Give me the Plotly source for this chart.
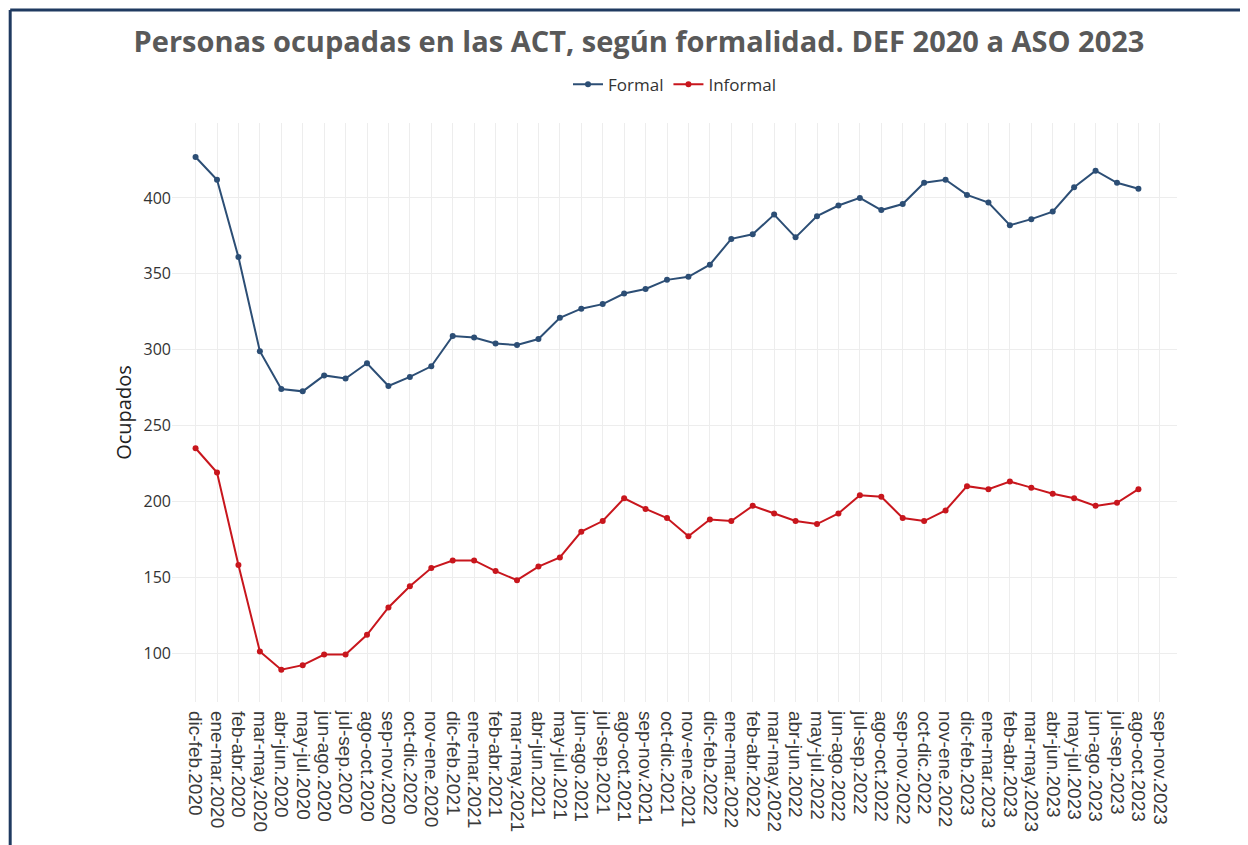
import plotly.graph_objects as go

categories = [
    "dic-feb.2020", "ene-mar.2020", "feb-abr.2020", "mar-may.2020", "abr-jun.2020",
    "may-jul.2020", "jun-ago.2020", "jul-sep.2020", "ago-oct.2020", "sep-nov.2020",
    "oct-dic.2020", "nov-ene.2020", "dic-feb.2021", "ene-mar.2021", "feb-abr.2021",
    "mar-may.2021", "abr-jun.2021", "may-jul.2021", "jun-ago.2021", "jul-sep.2021",
    "ago-oct.2021", "sep-nov.2021", "oct-dic.2021", "nov-ene.2021", "dic-feb.2022",
    "ene-mar.2022", "feb-abr.2022", "mar-may.2022", "abr-jun.2022", "may-jul.2022",
    "jun-ago.2022", "jul-sep.2022", "ago-oct.2022", "sep-nov.2022", "oct-dic.2022",
    "nov-ene.2022", "dic-feb.2023", "ene-mar.2023", "feb-abr.2023", "mar-may.2023",
    "abr-jun.2023", "may-jul.2023", "jun-ago.2023", "jul-sep.2023", "ago-oct.2023",
    "sep-nov.2023",
]

formal = [427, 412, 361, 299, 274, 272.5, 283, 281, 291, 276, 282, 289, 309, 308, 304,
          303, 307, 321, 327, 330, 337, 340, 346, 348, 356, 373, 376, 389, 374, 388,
          395, 400, 392, 396, 410, 412, 402, 397, 382, 386, 391, 407, 418, 410, 406]

informal = [235, 219, 158, 101, 89, 92, 99, 99, 112, 130, 144, 156, 161, 161, 154,
            148, 157, 163, 180, 187, 202, 195, 189, 177, 188, 187, 197, 192, 187, 185,
            192, 204, 203, 189, 187, 194, 210, 208, 213, 209, 205, 202, 197, 199, 208]

y_ticks = [100, 150, 200, 250, 300, 350, 400]

fig = go.Figure()
fig.add_trace(go.Scatter(
    x=categories[:len(formal)], y=formal, name="Formal", mode="lines+markers",
    line=dict(color="#2c4e75", width=2), marker=dict(color="#2c4e75", size=6),
))
fig.add_trace(go.Scatter(
    x=categories[:len(informal)], y=informal, name="Informal", mode="lines+markers",
    line=dict(color="#c8161d", width=2), marker=dict(color="#c8161d", size=6),
))

fig.update_layout(
    width=1248, height=845,
    margin=dict(l=164, r=79, t=115, b=151),
    paper_bgcolor="white", plot_bgcolor="white",
    title=dict(text="<b>Personas ocupadas en las ACT, según formalidad. DEF 2020 a ASO 2023</b>",
               x=0.5056, xanchor="center", y=0.960, yanchor="middle",
               font=dict(family="Open Sans", size=29, color="#595959")),
    legend=dict(orientation="h", x=0.5, xanchor="center", y=1.066, yanchor="middle",
                font=dict(family="Open Sans", size=17, color="#333333")),
    xaxis=dict(type="category", categoryorder="array", categoryarray=categories,
               tickmode="array", tickvals=categories, ticktext=categories,
               range=[-1.1, 45.8], tickangle=90, showgrid=True, gridcolor="#ededed",
               gridwidth=1, zeroline=False, showline=False, ticks="",
               ticklabelstandoff=8,
               tickfont=dict(family="Liberation Sans, Arial", size=19, color="#3a3a3a")),
    yaxis=dict(range=[67.7, 449.4], tickvals=y_ticks, showgrid=True, gridcolor="#ededed",
               gridwidth=1, zeroline=False, showline=False, ticks="",
               title=dict(text="Ocupados", font=dict(family="Open Sans", size=20, color="#222222"),
                          standoff=6),
               tickfont=dict(family="Open Sans", size=16, color="#333333")),
    shapes=[
        dict(type="line", xref="paper", yref="paper", x0=-0.161, x1=1.2, y0=1.195, y1=1.195,
             line=dict(color="#1f3a60", width=3)),
        dict(type="line", xref="paper", yref="paper", x0=-0.161, x1=-0.161, y0=1.195, y1=-0.4,
             line=dict(color="#1f3a60", width=3)),
    ],
)

fig.write_html("out.html")
